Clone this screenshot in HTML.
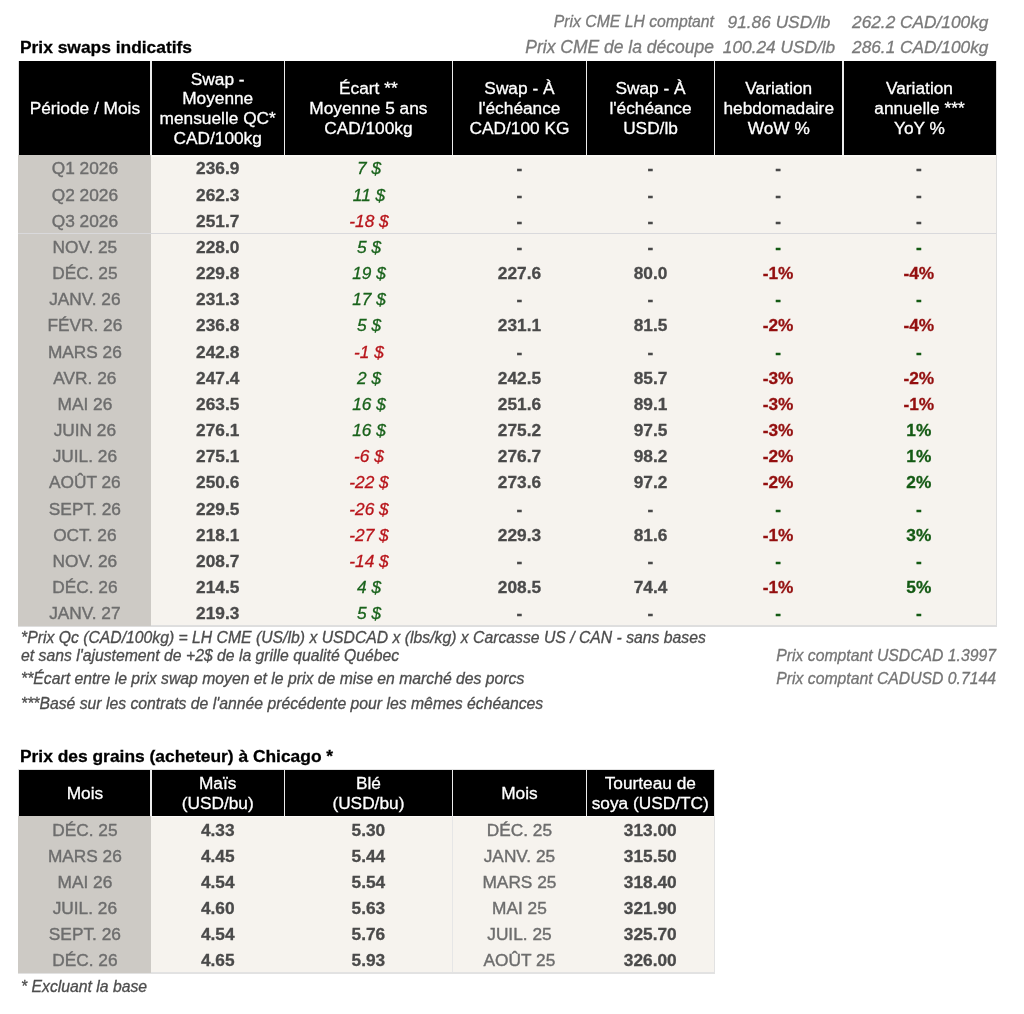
<!DOCTYPE html><html><head><meta charset="utf-8"><style>
html,body{margin:0;padding:0;background:#fff;}
body{transform:translateZ(0);will-change:transform;width:1024px;height:1014px;position:relative;overflow:hidden;font-family:"Liberation Sans",sans-serif;font-size:17.3px;color:#000;}
.c{position:absolute;display:flex;align-items:center;justify-content:center;text-align:center;white-space:nowrap;}
.c span{position:relative;top:0.9px;}
.c,.t{-webkit-text-stroke:0.3px currentColor;}
.h{color:#fff;line-height:19.7px;}
.p{color:#6d6d6d;-webkit-text-stroke:0.4px currentColor;}
.b{color:#4a4a4a;font-weight:bold;}
.ig{color:#19621b;font-style:italic;}
.ir{color:#b8151b;font-style:italic;}
.bg{color:#145a14;font-weight:bold;}
.br{color:#930f0f;font-weight:bold;}
.t{position:absolute;white-space:nowrap;}
.title{font-weight:bold;color:#000;font-size:17.4px;}
.it{font-style:italic;color:#7a7a7a;}
.fn{font-style:italic;color:#4d4d4d;font-size:15.75px;}
</style></head><body>
<div class="t it" style="right:310px;top:13.2px;font-size:15.75px;">Prix CME LH comptant</div>
<div class="t it" style="right:310px;top:36.9px;font-size:17.5px;">Prix CME de la découpe</div>
<div class="t it" style="left:714.5px;width:129px;text-align:center;top:11.9px;">91.86 USD/lb</div>
<div class="t it" style="left:714.5px;width:129px;text-align:center;top:37.2px;">100.24 USD/lb</div>
<div class="t it" style="left:843.5px;width:153.5px;text-align:center;top:11.9px;">262.2 CAD/100kg</div>
<div class="t it" style="left:843.5px;width:153.5px;text-align:center;top:37.2px;">286.1 CAD/100kg</div>
<div class="t title" style="left:20px;top:37.0px;">Prix swaps indicatifs</div>
<div style="position:absolute;left:18.00px;top:60.60px;width:979.00px;height:566.10px;background:#dedede;"></div>
<div style="position:absolute;left:18.75px;top:61.40px;width:977.25px;height:93.50px;background:#000;"></div>
<div style="position:absolute;left:18.10px;top:154.90px;width:132.90px;height:470.80px;background:#cdcac5;"></div>
<div style="position:absolute;left:151.00px;top:154.90px;width:845.00px;height:470.40px;background:#f6f3ee;"></div>
<div style="position:absolute;left:151.00px;top:154.90px;width:845.00px;height:2.20px;background:#fbf9f5;"></div>
<div style="position:absolute;left:150.30px;top:61.40px;width:1.40px;height:93.50px;background:#ececec;"></div>
<div style="position:absolute;left:283.70px;top:61.40px;width:1.40px;height:93.50px;background:#ececec;"></div>
<div style="position:absolute;left:451.70px;top:61.40px;width:1.40px;height:93.50px;background:#ececec;"></div>
<div style="position:absolute;left:585.80px;top:61.40px;width:1.40px;height:93.50px;background:#ececec;"></div>
<div style="position:absolute;left:713.80px;top:61.40px;width:1.40px;height:93.50px;background:#ececec;"></div>
<div style="position:absolute;left:842.30px;top:61.40px;width:1.40px;height:93.50px;background:#ececec;"></div>
<div style="position:absolute;left:18.10px;top:232.66px;width:977.90px;height:1.30px;background:#d9d9dc;"></div>
<div class="c h" style="left:18.75px;top:61.40px;width:132.25px;height:93.50px;"><span>Période / Mois</span></div>
<div class="c h" style="left:151.00px;top:61.40px;width:133.40px;height:93.50px;"><span>Swap -<br>Moyenne<br>mensuelle QC*<br>CAD/100kg</span></div>
<div class="c h" style="left:284.40px;top:61.40px;width:168.00px;height:93.50px;"><span>Écart **<br>Moyenne 5 ans<br>CAD/100kg</span></div>
<div class="c h" style="left:452.40px;top:61.40px;width:134.10px;height:93.50px;"><span>Swap - À<br>l'échéance<br>CAD/100 KG</span></div>
<div class="c h" style="left:586.50px;top:61.40px;width:128.00px;height:93.50px;"><span>Swap - À<br>l'échéance<br>USD/lb</span></div>
<div class="c h" style="left:714.50px;top:61.40px;width:128.50px;height:93.50px;"><span>Variation<br>hebdomadaire<br>WoW %</span></div>
<div class="c h" style="left:843.00px;top:61.40px;width:153.00px;height:93.50px;"><span>Variation<br>annuelle ***<br>YoY %</span></div>
<div class="c p" style="left:18.75px;top:154.90px;width:132.25px;height:26.17px;"><span>Q1 2026</span></div>
<div class="c b" style="left:151.00px;top:154.90px;width:133.40px;height:26.17px;"><span>236.9</span></div>
<div class="c ig" style="left:285.00px;top:154.90px;width:168.00px;height:26.17px;"><span>7 $</span></div>
<div class="c b" style="left:452.40px;top:154.90px;width:134.10px;height:26.17px;"><span>-</span></div>
<div class="c b" style="left:586.50px;top:154.90px;width:128.00px;height:26.17px;"><span>-</span></div>
<div class="c b" style="left:713.80px;top:154.90px;width:128.50px;height:26.17px;"><span>-</span></div>
<div class="c b" style="left:842.30px;top:154.90px;width:153.00px;height:26.17px;"><span>-</span></div>
<div class="c p" style="left:18.75px;top:181.07px;width:132.25px;height:26.17px;"><span>Q2 2026</span></div>
<div class="c b" style="left:151.00px;top:181.07px;width:133.40px;height:26.17px;"><span>262.3</span></div>
<div class="c ig" style="left:285.00px;top:181.07px;width:168.00px;height:26.17px;"><span>11 $</span></div>
<div class="c b" style="left:452.40px;top:181.07px;width:134.10px;height:26.17px;"><span>-</span></div>
<div class="c b" style="left:586.50px;top:181.07px;width:128.00px;height:26.17px;"><span>-</span></div>
<div class="c b" style="left:713.80px;top:181.07px;width:128.50px;height:26.17px;"><span>-</span></div>
<div class="c b" style="left:842.30px;top:181.07px;width:153.00px;height:26.17px;"><span>-</span></div>
<div class="c p" style="left:18.75px;top:207.24px;width:132.25px;height:26.17px;"><span>Q3 2026</span></div>
<div class="c b" style="left:151.00px;top:207.24px;width:133.40px;height:26.17px;"><span>251.7</span></div>
<div class="c ir" style="left:285.00px;top:207.24px;width:168.00px;height:26.17px;"><span>-18 $</span></div>
<div class="c b" style="left:452.40px;top:207.24px;width:134.10px;height:26.17px;"><span>-</span></div>
<div class="c b" style="left:586.50px;top:207.24px;width:128.00px;height:26.17px;"><span>-</span></div>
<div class="c b" style="left:713.80px;top:207.24px;width:128.50px;height:26.17px;"><span>-</span></div>
<div class="c b" style="left:842.30px;top:207.24px;width:153.00px;height:26.17px;"><span>-</span></div>
<div class="c p" style="left:18.75px;top:233.41px;width:132.25px;height:26.17px;"><span>NOV. 25</span></div>
<div class="c b" style="left:151.00px;top:233.41px;width:133.40px;height:26.17px;"><span>228.0</span></div>
<div class="c ig" style="left:285.00px;top:233.41px;width:168.00px;height:26.17px;"><span>5 $</span></div>
<div class="c b" style="left:452.40px;top:233.41px;width:134.10px;height:26.17px;"><span>-</span></div>
<div class="c b" style="left:586.50px;top:233.41px;width:128.00px;height:26.17px;"><span>-</span></div>
<div class="c bg" style="left:713.80px;top:233.41px;width:128.50px;height:26.17px;"><span>-</span></div>
<div class="c bg" style="left:842.30px;top:233.41px;width:153.00px;height:26.17px;"><span>-</span></div>
<div class="c p" style="left:18.75px;top:259.58px;width:132.25px;height:26.17px;"><span>DÉC. 25</span></div>
<div class="c b" style="left:151.00px;top:259.58px;width:133.40px;height:26.17px;"><span>229.8</span></div>
<div class="c ig" style="left:285.00px;top:259.58px;width:168.00px;height:26.17px;"><span>19 $</span></div>
<div class="c b" style="left:452.40px;top:259.58px;width:134.10px;height:26.17px;"><span>227.6</span></div>
<div class="c b" style="left:586.50px;top:259.58px;width:128.00px;height:26.17px;"><span>80.0</span></div>
<div class="c br" style="left:713.80px;top:259.58px;width:128.50px;height:26.17px;"><span>-1%</span></div>
<div class="c br" style="left:842.30px;top:259.58px;width:153.00px;height:26.17px;"><span>-4%</span></div>
<div class="c p" style="left:18.75px;top:285.75px;width:132.25px;height:26.17px;"><span>JANV. 26</span></div>
<div class="c b" style="left:151.00px;top:285.75px;width:133.40px;height:26.17px;"><span>231.3</span></div>
<div class="c ig" style="left:285.00px;top:285.75px;width:168.00px;height:26.17px;"><span>17 $</span></div>
<div class="c b" style="left:452.40px;top:285.75px;width:134.10px;height:26.17px;"><span>-</span></div>
<div class="c b" style="left:586.50px;top:285.75px;width:128.00px;height:26.17px;"><span>-</span></div>
<div class="c bg" style="left:713.80px;top:285.75px;width:128.50px;height:26.17px;"><span>-</span></div>
<div class="c bg" style="left:842.30px;top:285.75px;width:153.00px;height:26.17px;"><span>-</span></div>
<div class="c p" style="left:18.75px;top:311.92px;width:132.25px;height:26.17px;"><span>FÉVR. 26</span></div>
<div class="c b" style="left:151.00px;top:311.92px;width:133.40px;height:26.17px;"><span>236.8</span></div>
<div class="c ig" style="left:285.00px;top:311.92px;width:168.00px;height:26.17px;"><span>5 $</span></div>
<div class="c b" style="left:452.40px;top:311.92px;width:134.10px;height:26.17px;"><span>231.1</span></div>
<div class="c b" style="left:586.50px;top:311.92px;width:128.00px;height:26.17px;"><span>81.5</span></div>
<div class="c br" style="left:713.80px;top:311.92px;width:128.50px;height:26.17px;"><span>-2%</span></div>
<div class="c br" style="left:842.30px;top:311.92px;width:153.00px;height:26.17px;"><span>-4%</span></div>
<div class="c p" style="left:18.75px;top:338.09px;width:132.25px;height:26.17px;"><span>MARS 26</span></div>
<div class="c b" style="left:151.00px;top:338.09px;width:133.40px;height:26.17px;"><span>242.8</span></div>
<div class="c ir" style="left:285.00px;top:338.09px;width:168.00px;height:26.17px;"><span>-1 $</span></div>
<div class="c b" style="left:452.40px;top:338.09px;width:134.10px;height:26.17px;"><span>-</span></div>
<div class="c b" style="left:586.50px;top:338.09px;width:128.00px;height:26.17px;"><span>-</span></div>
<div class="c bg" style="left:713.80px;top:338.09px;width:128.50px;height:26.17px;"><span>-</span></div>
<div class="c bg" style="left:842.30px;top:338.09px;width:153.00px;height:26.17px;"><span>-</span></div>
<div class="c p" style="left:18.75px;top:364.26px;width:132.25px;height:26.17px;"><span>AVR. 26</span></div>
<div class="c b" style="left:151.00px;top:364.26px;width:133.40px;height:26.17px;"><span>247.4</span></div>
<div class="c ig" style="left:285.00px;top:364.26px;width:168.00px;height:26.17px;"><span>2 $</span></div>
<div class="c b" style="left:452.40px;top:364.26px;width:134.10px;height:26.17px;"><span>242.5</span></div>
<div class="c b" style="left:586.50px;top:364.26px;width:128.00px;height:26.17px;"><span>85.7</span></div>
<div class="c br" style="left:713.80px;top:364.26px;width:128.50px;height:26.17px;"><span>-3%</span></div>
<div class="c br" style="left:842.30px;top:364.26px;width:153.00px;height:26.17px;"><span>-2%</span></div>
<div class="c p" style="left:18.75px;top:390.43px;width:132.25px;height:26.17px;"><span>MAI 26</span></div>
<div class="c b" style="left:151.00px;top:390.43px;width:133.40px;height:26.17px;"><span>263.5</span></div>
<div class="c ig" style="left:285.00px;top:390.43px;width:168.00px;height:26.17px;"><span>16 $</span></div>
<div class="c b" style="left:452.40px;top:390.43px;width:134.10px;height:26.17px;"><span>251.6</span></div>
<div class="c b" style="left:586.50px;top:390.43px;width:128.00px;height:26.17px;"><span>89.1</span></div>
<div class="c br" style="left:713.80px;top:390.43px;width:128.50px;height:26.17px;"><span>-3%</span></div>
<div class="c br" style="left:842.30px;top:390.43px;width:153.00px;height:26.17px;"><span>-1%</span></div>
<div class="c p" style="left:18.75px;top:416.60px;width:132.25px;height:26.17px;"><span>JUIN 26</span></div>
<div class="c b" style="left:151.00px;top:416.60px;width:133.40px;height:26.17px;"><span>276.1</span></div>
<div class="c ig" style="left:285.00px;top:416.60px;width:168.00px;height:26.17px;"><span>16 $</span></div>
<div class="c b" style="left:452.40px;top:416.60px;width:134.10px;height:26.17px;"><span>275.2</span></div>
<div class="c b" style="left:586.50px;top:416.60px;width:128.00px;height:26.17px;"><span>97.5</span></div>
<div class="c br" style="left:713.80px;top:416.60px;width:128.50px;height:26.17px;"><span>-3%</span></div>
<div class="c bg" style="left:842.30px;top:416.60px;width:153.00px;height:26.17px;"><span>1%</span></div>
<div class="c p" style="left:18.75px;top:442.77px;width:132.25px;height:26.17px;"><span>JUIL. 26</span></div>
<div class="c b" style="left:151.00px;top:442.77px;width:133.40px;height:26.17px;"><span>275.1</span></div>
<div class="c ir" style="left:285.00px;top:442.77px;width:168.00px;height:26.17px;"><span>-6 $</span></div>
<div class="c b" style="left:452.40px;top:442.77px;width:134.10px;height:26.17px;"><span>276.7</span></div>
<div class="c b" style="left:586.50px;top:442.77px;width:128.00px;height:26.17px;"><span>98.2</span></div>
<div class="c br" style="left:713.80px;top:442.77px;width:128.50px;height:26.17px;"><span>-2%</span></div>
<div class="c bg" style="left:842.30px;top:442.77px;width:153.00px;height:26.17px;"><span>1%</span></div>
<div class="c p" style="left:18.75px;top:468.94px;width:132.25px;height:26.17px;"><span>AOÛT 26</span></div>
<div class="c b" style="left:151.00px;top:468.94px;width:133.40px;height:26.17px;"><span>250.6</span></div>
<div class="c ir" style="left:285.00px;top:468.94px;width:168.00px;height:26.17px;"><span>-22 $</span></div>
<div class="c b" style="left:452.40px;top:468.94px;width:134.10px;height:26.17px;"><span>273.6</span></div>
<div class="c b" style="left:586.50px;top:468.94px;width:128.00px;height:26.17px;"><span>97.2</span></div>
<div class="c br" style="left:713.80px;top:468.94px;width:128.50px;height:26.17px;"><span>-2%</span></div>
<div class="c bg" style="left:842.30px;top:468.94px;width:153.00px;height:26.17px;"><span>2%</span></div>
<div class="c p" style="left:18.75px;top:495.11px;width:132.25px;height:26.17px;"><span>SEPT. 26</span></div>
<div class="c b" style="left:151.00px;top:495.11px;width:133.40px;height:26.17px;"><span>229.5</span></div>
<div class="c ir" style="left:285.00px;top:495.11px;width:168.00px;height:26.17px;"><span>-26 $</span></div>
<div class="c b" style="left:452.40px;top:495.11px;width:134.10px;height:26.17px;"><span>-</span></div>
<div class="c b" style="left:586.50px;top:495.11px;width:128.00px;height:26.17px;"><span>-</span></div>
<div class="c bg" style="left:713.80px;top:495.11px;width:128.50px;height:26.17px;"><span>-</span></div>
<div class="c bg" style="left:842.30px;top:495.11px;width:153.00px;height:26.17px;"><span>-</span></div>
<div class="c p" style="left:18.75px;top:521.28px;width:132.25px;height:26.17px;"><span>OCT. 26</span></div>
<div class="c b" style="left:151.00px;top:521.28px;width:133.40px;height:26.17px;"><span>218.1</span></div>
<div class="c ir" style="left:285.00px;top:521.28px;width:168.00px;height:26.17px;"><span>-27 $</span></div>
<div class="c b" style="left:452.40px;top:521.28px;width:134.10px;height:26.17px;"><span>229.3</span></div>
<div class="c b" style="left:586.50px;top:521.28px;width:128.00px;height:26.17px;"><span>81.6</span></div>
<div class="c br" style="left:713.80px;top:521.28px;width:128.50px;height:26.17px;"><span>-1%</span></div>
<div class="c bg" style="left:842.30px;top:521.28px;width:153.00px;height:26.17px;"><span>3%</span></div>
<div class="c p" style="left:18.75px;top:547.45px;width:132.25px;height:26.17px;"><span>NOV. 26</span></div>
<div class="c b" style="left:151.00px;top:547.45px;width:133.40px;height:26.17px;"><span>208.7</span></div>
<div class="c ir" style="left:285.00px;top:547.45px;width:168.00px;height:26.17px;"><span>-14 $</span></div>
<div class="c b" style="left:452.40px;top:547.45px;width:134.10px;height:26.17px;"><span>-</span></div>
<div class="c b" style="left:586.50px;top:547.45px;width:128.00px;height:26.17px;"><span>-</span></div>
<div class="c bg" style="left:713.80px;top:547.45px;width:128.50px;height:26.17px;"><span>-</span></div>
<div class="c bg" style="left:842.30px;top:547.45px;width:153.00px;height:26.17px;"><span>-</span></div>
<div class="c p" style="left:18.75px;top:573.62px;width:132.25px;height:26.17px;"><span>DÉC. 26</span></div>
<div class="c b" style="left:151.00px;top:573.62px;width:133.40px;height:26.17px;"><span>214.5</span></div>
<div class="c ig" style="left:285.00px;top:573.62px;width:168.00px;height:26.17px;"><span>4 $</span></div>
<div class="c b" style="left:452.40px;top:573.62px;width:134.10px;height:26.17px;"><span>208.5</span></div>
<div class="c b" style="left:586.50px;top:573.62px;width:128.00px;height:26.17px;"><span>74.4</span></div>
<div class="c br" style="left:713.80px;top:573.62px;width:128.50px;height:26.17px;"><span>-1%</span></div>
<div class="c bg" style="left:842.30px;top:573.62px;width:153.00px;height:26.17px;"><span>5%</span></div>
<div class="c p" style="left:18.75px;top:599.79px;width:132.25px;height:26.17px;"><span>JANV. 27</span></div>
<div class="c b" style="left:151.00px;top:599.79px;width:133.40px;height:26.17px;"><span>219.3</span></div>
<div class="c ig" style="left:285.00px;top:599.79px;width:168.00px;height:26.17px;"><span>5 $</span></div>
<div class="c b" style="left:452.40px;top:599.79px;width:134.10px;height:26.17px;"><span>-</span></div>
<div class="c b" style="left:586.50px;top:599.79px;width:128.00px;height:26.17px;"><span>-</span></div>
<div class="c bg" style="left:713.80px;top:599.79px;width:128.50px;height:26.17px;"><span>-</span></div>
<div class="c bg" style="left:842.30px;top:599.79px;width:153.00px;height:26.17px;"><span>-</span></div>
<div class="t fn" style="left:21px;top:628.9px;">*Prix Qc (CAD/100kg) = LH CME (US/lb) x USDCAD x (lbs/kg) x Carcasse US / CAN - sans bases</div>
<div class="t fn" style="left:21px;top:646.8px;">et sans l'ajustement de +2$ de la grille qualité Québec</div>
<div class="t fn" style="left:21px;top:669.8px;">**Écart entre le prix swap moyen et le prix de mise en marché des porcs</div>
<div class="t fn" style="left:21px;top:695.3px;">***Basé sur les contrats de l'année précédente pour les mêmes échéances</div>
<div class="t fn" style="right:28px;top:646.5px;color:#757575;">Prix comptant USDCAD 1.3997</div>
<div class="t fn" style="right:28px;top:669.8px;color:#757575;">Prix comptant CADUSD 0.7144</div>
<div class="t title" style="left:20px;top:745.5px;">Prix des grains (acheteur) à Chicago *</div>
<div style="position:absolute;left:18.00px;top:769.30px;width:696.70px;height:204.70px;background:#e2e2e2;"></div>
<div style="position:absolute;left:18.75px;top:770.00px;width:695.35px;height:45.60px;background:#000;"></div>
<div style="position:absolute;left:18.10px;top:815.60px;width:132.90px;height:157.30px;background:#cdcac5;"></div>
<div style="position:absolute;left:151.00px;top:815.60px;width:563.10px;height:156.90px;background:#f6f3ee;"></div>
<div style="position:absolute;left:151.00px;top:815.60px;width:563.10px;height:1.20px;background:#fdfcfa;"></div>
<div style="position:absolute;left:451.80px;top:815.60px;width:1.20px;height:156.90px;background:#e6e6e6;"></div>
<div style="position:absolute;left:150.30px;top:770.00px;width:1.40px;height:45.60px;background:#ececec;"></div>
<div style="position:absolute;left:283.70px;top:770.00px;width:1.40px;height:45.60px;background:#ececec;"></div>
<div style="position:absolute;left:451.70px;top:770.00px;width:1.40px;height:45.60px;background:#ececec;"></div>
<div style="position:absolute;left:585.80px;top:770.00px;width:1.40px;height:45.60px;background:#ececec;"></div>
<div class="c h" style="left:18.75px;top:770.00px;width:132.25px;height:45.60px;"><span>Mois</span></div>
<div class="c h" style="left:151.00px;top:770.00px;width:133.40px;height:45.60px;"><span>Maïs<br>(USD/bu)</span></div>
<div class="c h" style="left:284.40px;top:770.00px;width:168.00px;height:45.60px;"><span>Blé<br>(USD/bu)</span></div>
<div class="c h" style="left:452.40px;top:770.00px;width:134.10px;height:45.60px;"><span>Mois</span></div>
<div class="c h" style="left:586.50px;top:770.00px;width:127.60px;height:45.60px;"><span>Tourteau de<br>soya (USD/TC)</span></div>
<div class="c p" style="left:18.75px;top:816.60px;width:132.25px;height:26.15px;"><span>DÉC. 25</span></div>
<div class="c b" style="left:151.00px;top:816.60px;width:133.40px;height:26.15px;"><span>4.33</span></div>
<div class="c b" style="left:284.40px;top:816.60px;width:168.00px;height:26.15px;"><span>5.30</span></div>
<div class="c p" style="left:452.40px;top:816.60px;width:134.10px;height:26.15px;"><span>DÉC. 25</span></div>
<div class="c b" style="left:586.50px;top:816.60px;width:127.60px;height:26.15px;"><span>313.00</span></div>
<div class="c p" style="left:18.75px;top:842.60px;width:132.25px;height:26.15px;"><span>MARS 26</span></div>
<div class="c b" style="left:151.00px;top:842.60px;width:133.40px;height:26.15px;"><span>4.45</span></div>
<div class="c b" style="left:284.40px;top:842.60px;width:168.00px;height:26.15px;"><span>5.44</span></div>
<div class="c p" style="left:452.40px;top:842.60px;width:134.10px;height:26.15px;"><span>JANV. 25</span></div>
<div class="c b" style="left:586.50px;top:842.60px;width:127.60px;height:26.15px;"><span>315.50</span></div>
<div class="c p" style="left:18.75px;top:868.60px;width:132.25px;height:26.15px;"><span>MAI 26</span></div>
<div class="c b" style="left:151.00px;top:868.60px;width:133.40px;height:26.15px;"><span>4.54</span></div>
<div class="c b" style="left:284.40px;top:868.60px;width:168.00px;height:26.15px;"><span>5.54</span></div>
<div class="c p" style="left:452.40px;top:868.60px;width:134.10px;height:26.15px;"><span>MARS 25</span></div>
<div class="c b" style="left:586.50px;top:868.60px;width:127.60px;height:26.15px;"><span>318.40</span></div>
<div class="c p" style="left:18.75px;top:894.60px;width:132.25px;height:26.15px;"><span>JUIL. 26</span></div>
<div class="c b" style="left:151.00px;top:894.60px;width:133.40px;height:26.15px;"><span>4.60</span></div>
<div class="c b" style="left:284.40px;top:894.60px;width:168.00px;height:26.15px;"><span>5.63</span></div>
<div class="c p" style="left:452.40px;top:894.60px;width:134.10px;height:26.15px;"><span>MAI 25</span></div>
<div class="c b" style="left:586.50px;top:894.60px;width:127.60px;height:26.15px;"><span>321.90</span></div>
<div class="c p" style="left:18.75px;top:920.60px;width:132.25px;height:26.15px;"><span>SEPT. 26</span></div>
<div class="c b" style="left:151.00px;top:920.60px;width:133.40px;height:26.15px;"><span>4.54</span></div>
<div class="c b" style="left:284.40px;top:920.60px;width:168.00px;height:26.15px;"><span>5.76</span></div>
<div class="c p" style="left:452.40px;top:920.60px;width:134.10px;height:26.15px;"><span>JUIL. 25</span></div>
<div class="c b" style="left:586.50px;top:920.60px;width:127.60px;height:26.15px;"><span>325.70</span></div>
<div class="c p" style="left:18.75px;top:946.60px;width:132.25px;height:26.15px;"><span>DÉC. 26</span></div>
<div class="c b" style="left:151.00px;top:946.60px;width:133.40px;height:26.15px;"><span>4.65</span></div>
<div class="c b" style="left:284.40px;top:946.60px;width:168.00px;height:26.15px;"><span>5.93</span></div>
<div class="c p" style="left:452.40px;top:946.60px;width:134.10px;height:26.15px;"><span>AOÛT 25</span></div>
<div class="c b" style="left:586.50px;top:946.60px;width:127.60px;height:26.15px;"><span>326.00</span></div>
<div class="t fn" style="left:21px;top:977.5px;">* Excluant la base</div>
</body></html>
